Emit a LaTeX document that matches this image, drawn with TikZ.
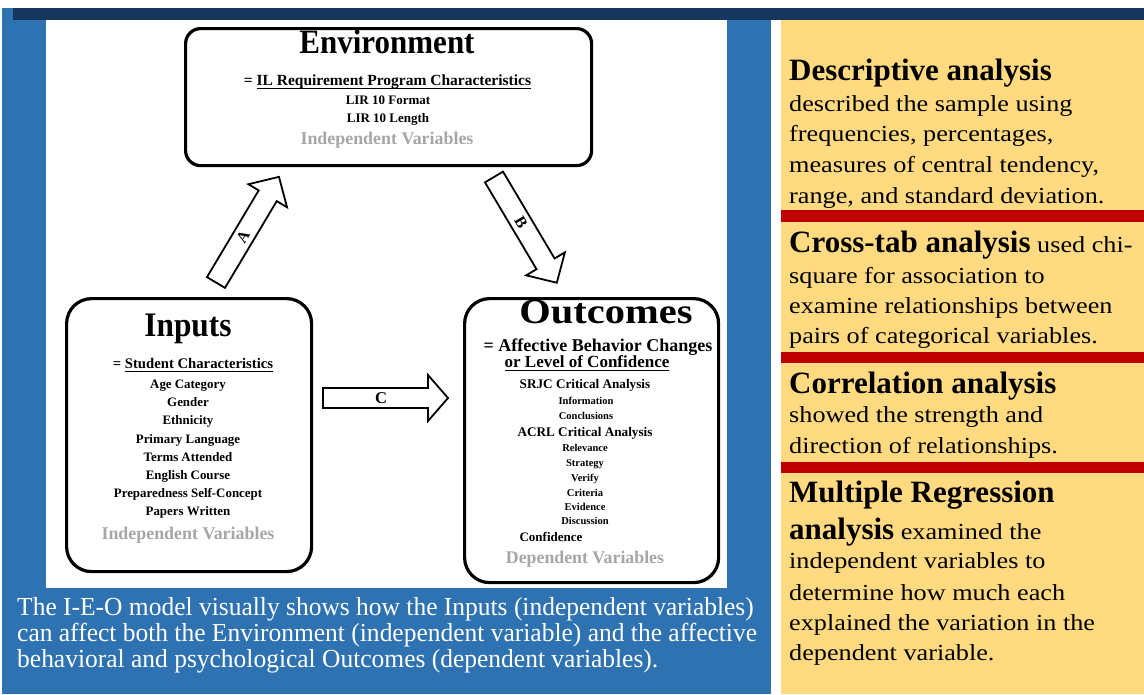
\documentclass[tikz,border=0pt]{standalone}
\usepackage{fontspec}
\usepackage{graphicx}
\setmainfont{Liberation Serif}
\newfontfamily\bodyfont[FakeStretch=1.14]{Liberation Serif}
\newfontfamily\capfont[FakeStretch=0.98]{Liberation Serif}
\newcommand\fsz[1]{\fontsize{#1}{#1}\selectfont}
\newcommand\myul[1]{\leavevmode\setbox0=\hbox{#1}\rlap{\rule[-0.25em]{\wd0}{0.075em}}\box0}
\definecolor{panelblue}{RGB}{46,114,178}
\definecolor{navy}{RGB}{23,54,93}
\definecolor{gold}{RGB}{255,218,128}
\definecolor{barred}{RGB}{192,0,0}
\definecolor{vargrey}{RGB}{166,166,166}
\begin{document}
\begin{tikzpicture}[x=1pt,y=-1pt,
  ieobox/.style={draw=black,line width=3.2pt,fill=white,inner sep=0pt,anchor=north west},
  blockarrow/.style={draw=black,line width=1.8pt,fill=white,line join=miter},
  bt/.style={inner sep=0pt,anchor=base},
  rt/.style={inner sep=0pt,anchor=base west},
  captext/.style={inner sep=0pt,anchor=base west,text=white,font=\capfont\fsz{26}},
  bodytext/.style={inner sep=0pt,anchor=base west,font=\bodyfont\fsz{23}},
  headtext/.style={inner sep=0pt,anchor=base west,font=\fsz{31}\bfseries},
  itemI/.style={bt,font=\fsz{12.9}\bfseries},
  itemS/.style={bt,font=\fsz{10.5}\bfseries},
  itemM/.style={bt,font=\fsz{13.2}\bfseries},
  greyvar/.style={bt,text=vargrey}]

\useasboundingbox (0,0) rectangle (1144,694);
% backgrounds
\fill[white] (0,0) rectangle (1144,694);
\fill[panelblue] (2,8) rectangle (771,694);
\fill[navy] (13,8) rectangle (1144,20);
\fill[gold] (781,20) rectangle (1144,694);
\fill[white] (46,20) rectangle (727,588);
\fill[barred] (781,210) rectangle (1144,222);
\fill[barred] (781,352) rectangle (1144,363);
\fill[barred] (781,462) rectangle (1144,473);

% boxes
\node[ieobox,rounded corners=15pt,minimum width=406pt,minimum height=137pt] (env) at (184,27) {};
\node[ieobox,rounded corners=25pt,minimum width=245pt,minimum height=273pt] (inp) at (65,297) {};
\node[ieobox,rounded corners=25pt,minimum width=254pt,minimum height=284pt] (out) at (463,297) {};

% environment texts
\node[bt,font=\fsz{31}\bfseries] (envt) at (387,53) {\scalebox{1}[1.1]{Environment}};
\node[bt,font=\fsz{15.5}\bfseries] (envs) at (387.5,85) {= \myul{IL Requirement Program Characteristics}};
\node[bt,font=\fsz{13}\bfseries] (env1) at (388,104) {LIR 10 Format};
\node[bt,font=\fsz{13}\bfseries] (env2) at (388,122) {LIR 10 Length};
\node[greyvar,font=\fsz{17.9}\bfseries] (envv) at (387,144) {Independent Variables};

% inputs texts
\node[bt,font=\fsz{31.3}\bfseries] (inpt) at (188,336) {\scalebox{1}[1.1]{Inputs}};
\node[bt,font=\fsz{14.7}\bfseries] (inps) at (193,368) {= \myul{Student Characteristics}};
\node[itemI] (i1) at (188,388) {Age Category};
\node[itemI] (i2) at (188,406) {Gender};
\node[itemI] (i3) at (188,424) {Ethnicity};
\node[itemI] (i4) at (188,443) {Primary Language};
\node[itemI] (i5) at (188,461) {Terms Attended};
\node[itemI] (i6) at (188,479) {English Course};
\node[itemI] (i7) at (188,497) {Preparedness Self-Concept};
\node[itemI] (i8) at (188,515) {Papers Written};
\node[greyvar,font=\fsz{17.9}\bfseries] (inpv) at (188,539) {Independent Variables};

% outcomes texts
\node[bt,font=\fsz{35.5}\bfseries] (outt) at (606,323) {\scalebox{1.14}[1]{Outcomes}};
\node[bt,font=\fsz{18}\bfseries] (outs1) at (598,351) {= Affective Behavior Changes};
\node[bt,font=\fsz{17}\bfseries] (outs2) at (587,367) {\myul{or Level of Confidence}};
\node[itemM] (o1) at (585,388) {SRJC Critical Analysis};
\node[itemS] (o2) at (586,404) {Information};
\node[itemS] (o3) at (586,419) {Conclusions};
\node[itemM] (o4) at (585,436) {ACRL Critical Analysis};
\node[itemS] (o5) at (585,451) {Relevance};
\node[itemS] (o6) at (585,466) {Strategy};
\node[itemS] (o7) at (585,481) {Verify};
\node[itemS] (o8) at (585,496) {Criteria};
\node[itemS] (o9) at (585,510) {Evidence};
\node[itemS] (o10) at (585,524) {Discussion};
\node[bt,font=\fsz{13}\bfseries] (o11) at (551,541) {Confidence};
\node[greyvar,font=\fsz{17.8}\bfseries] (outv) at (585,563) {Dependent Variables};

% block arrows
\begin{scope}[shift={(216,282.5)},rotate=59.2]
  \draw[blockarrow] (0,-10.5) -- (101,-10.5) -- (101,-22.5) -- (123,0) -- (101,22.5) -- (101,10.5) -- (0,10.5) -- cycle;
  \node[inner sep=0pt,font=\fsz{16}\bfseries,rotate=59.2] (la) at (53,0) {A};
\end{scope}
\begin{scope}[shift={(494,177)},rotate=-59.3]
  \draw[blockarrow] (0,-10.5) -- (101,-10.5) -- (101,-22.5) -- (123,0) -- (101,22.5) -- (101,10.5) -- (0,10.5) -- cycle;
  \node[inner sep=0pt,font=\fsz{16}\bfseries,rotate=-59.3] (lb) at (53,0) {B};
\end{scope}
\begin{scope}[shift={(323,398)}]
  \draw[blockarrow] (0,-10) -- (105,-10) -- (105,-23) -- (125,0) -- (105,23) -- (105,10) -- (0,10) -- cycle;
  \node[inner sep=0pt,font=\fsz{16.5}\bfseries] (lc) at (58,0) {C};
\end{scope}

% caption
\node[captext] (cap1) at (17,615) {The I-E-O model visually shows how the Inputs (independent variables)};
\node[captext] (cap2) at (17,641) {can affect both the Environment (independent variable) and the affective};
\node[captext] (cap3) at (17,667) {behavioral and psychological Outcomes (dependent variables).};

% right panel
\node[headtext] (d0) at (789,80) {Descriptive analysis};
\node[bodytext] (d1) at (789,111) {described the sample using};
\node[bodytext] (d2) at (789,141.5) {frequencies, percentages,};
\node[bodytext] (d3) at (789,172) {measures of central tendency,};
\node[bodytext] (d4) at (789,203) {range, and standard deviation.};

\node[rt] (c0) at (789,252) {{\fsz{31}\bfseries Cross-tab analysis}{\bodyfont\fsz{23}\ used chi-}};
\node[bodytext] (c1) at (789,283) {square for association to};
\node[bodytext] (c2) at (789,313) {examine relationships between};
\node[bodytext] (c3) at (789,343) {pairs of categorical variables.};

\node[headtext] (r0) at (789,393) {Correlation analysis};
\node[bodytext] (r1) at (789,422) {showed the strength and};
\node[bodytext] (r2) at (789,453) {direction of relationships.};

\node[headtext] (m0) at (789,502) {Multiple Regression};
\node[rt] (m1) at (789,539) {{\fsz{31}\bfseries analysis}{\bodyfont\fsz{23}\ examined the}};
\node[bodytext] (m2) at (789,568) {independent variables to};
\node[bodytext] (m3) at (789,600) {determine how much each};
\node[bodytext] (m4) at (789,630) {explained the variation in the};
\node[bodytext] (m5) at (789,660) {dependent variable.};
\end{tikzpicture}
\end{document}
